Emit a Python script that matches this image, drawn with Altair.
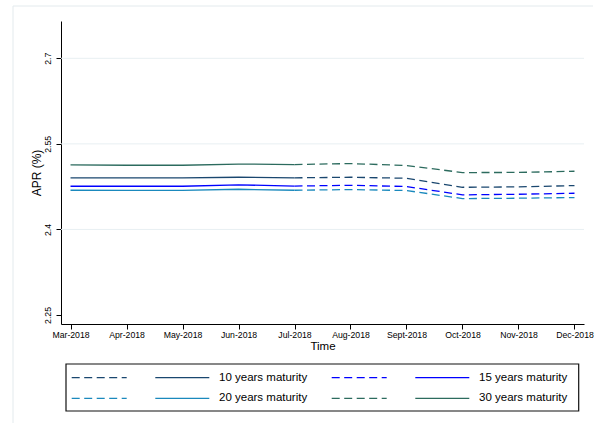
import altair as alt
import pandas as pd

# Monthly APR by mortgage maturity; observed through Jul-2018, projected after
months = ["Mar-2018", "Apr-2018", "May-2018", "Jun-2018", "Jul-2018",
          "Aug-2018", "Sept-2018", "Oct-2018", "Nov-2018", "Dec-2018"]
series_names = ["10 years maturity", "15 years maturity",
                "20 years maturity", "30 years maturity"]
apr_10y = [2.4904, 2.4904, 2.4904, 2.4915, 2.4904, 2.4915, 2.4897, 2.4739, 2.4746, 2.4769]
apr_15y = [2.4757, 2.4757, 2.4757, 2.4781, 2.4760, 2.4774, 2.4752, 2.4606, 2.4617, 2.4634]
apr_20y = [2.4687, 2.4685, 2.4685, 2.4704, 2.4687, 2.4699, 2.4682, 2.4541, 2.4547, 2.4559]
apr_30y = [2.5132, 2.5125, 2.5125, 2.5146, 2.5137, 2.5155, 2.5120, 2.4997, 2.4999, 2.5020]
series_colors = ["#1a476f", "#0000ff", "#1a89bd", "#2c6b5e"]
y_ticks = [2.25, 2.4, 2.55, 2.7]
grid_values = [2.4, 2.55, 2.7]
last_observed = 4  # index of Jul-2018

FONT = "Liberation Sans"
DASH = [8, 4.5]

rows = []
for name, vals in zip(series_names, [apr_10y, apr_15y, apr_20y, apr_30y]):
    for i, (m, v) in enumerate(zip(months, vals)):
        if i <= last_observed:
            rows.append({"series": name, "month": m, "APR": v, "part": "observed"})
        if i >= last_observed:
            rows.append({"series": name, "month": m, "APR": v, "part": "projected"})
df = pd.DataFrame(rows)

color = alt.Color("series:N", scale=alt.Scale(domain=series_names, range=series_colors),
                  legend=None)

y_scale = alt.Scale(domain=[2.2342, 2.7654], nice=False, zero=False)
y_axis = alt.Axis(title="APR (%)", values=y_ticks, format=".3~g", grid=False,
                  labelAngle=270, labelAlign="center", labelBaseline="alphabetic",
                  labelPadding=5.5, labelFontSize=8.7, labelColor="black",
                  tickSize=5, tickColor="black", domainColor="black",
                  titleFontSize=12, titleFontWeight="normal", titleColor="black",
                  titlePadding=0)
x_axis = alt.Axis(title="Time", labelAngle=0, labelFontSize=8.7, labelColor="black",
                  labelPadding=1, tickSize=5, tickColor="black", domainColor="black",
                  grid=False, titleFontSize=11.5, titleFontWeight="normal",
                  titleColor="black", titlePadding=2)
x_enc = alt.X("month:N", sort=months, axis=x_axis,
              scale=alt.Scale(type="point", padding=0.17))
y_enc = alt.Y("APR:Q", scale=y_scale, axis=y_axis)

base = alt.Chart(df)
observed = base.transform_filter(alt.datum.part == "observed").mark_line(
    strokeWidth=1.3).encode(x=x_enc, y=y_enc, color=color)
projected = base.transform_filter(alt.datum.part == "projected").mark_line(
    strokeWidth=1.3, strokeDash=DASH).encode(x=x_enc, y=y_enc, color=color)

grid = alt.Chart(pd.DataFrame({"APR": grid_values})).mark_rule(
    color="#e8eff2", strokeWidth=1).encode(y=y_enc)

# light outer graph-region frame
one = pd.DataFrame({"k": [0]})
frame_top = alt.Chart(one).mark_rule(color="#e3eaed", strokeWidth=1).encode(
    x=alt.value(-48), x2=alt.value(532), y=alt.value(-15))
frame_left = alt.Chart(one).mark_rule(color="#e3eaed", strokeWidth=1).encode(
    x=alt.value(-48), y=alt.value(-15), y2=alt.value(402))

top = alt.layer(frame_top, frame_left, grid, observed, projected).properties(
    width=523, height=303)

# Legend: dashed key, solid key and label for each maturity, in a 2x2 grid
legend_df = pd.DataFrame({"series": series_names, "row": [0, 0, 1, 1], "col": [0, 1, 0, 1]})
lx = alt.Scale(domain=[0, 523], nice=False, zero=False)
ly = alt.Scale(domain=[0, 47], nice=False, zero=False, reverse=True)
lbase = alt.Chart(legend_df).transform_calculate(
    ky="13.7 + datum.row * 20.6",
    dx0="10.7 + datum.col * 260",
    dx1="65.7 + datum.col * 260",
    sx0="94.3 + datum.col * 260",
    sx1="148.3 + datum.col * 260",
    tx="158 + datum.col * 260",
)
key_dashed = lbase.mark_rule(strokeWidth=1.3, strokeDash=DASH).encode(
    x=alt.X("dx0:Q", scale=lx, axis=None), x2="dx1:Q",
    y=alt.Y("ky:Q", scale=ly, axis=None), color=color)
key_solid = lbase.mark_rule(strokeWidth=1.3).encode(
    x=alt.X("sx0:Q", scale=lx, axis=None), x2="sx1:Q",
    y=alt.Y("ky:Q", scale=ly, axis=None), color=color)
key_text = lbase.mark_text(align="left", baseline="middle", fontSize=11.5,
                           color="black").encode(
    x=alt.X("tx:Q", scale=lx, axis=None),
    y=alt.Y("ky:Q", scale=ly, axis=None), text="series:N")
box = alt.Chart(one).mark_rect(fill="transparent", stroke="#111111", strokeWidth=1.2).encode(
    x=alt.value(5), x2=alt.value(517.7), y=alt.value(0), y2=alt.value(47))

legend_panel = alt.layer(box, key_dashed, key_solid, key_text).properties(
    width=523, height=47)

chart = alt.vconcat(top, legend_panel, spacing=40, bounds="flush").properties(
    padding={"left": 12, "top": 5, "right": 0, "bottom": 0},
    background="white",
).configure(font=FONT).configure_view(strokeWidth=0)

chart.save("out.html", embed_options={"renderer": "svg", "actions": False})
